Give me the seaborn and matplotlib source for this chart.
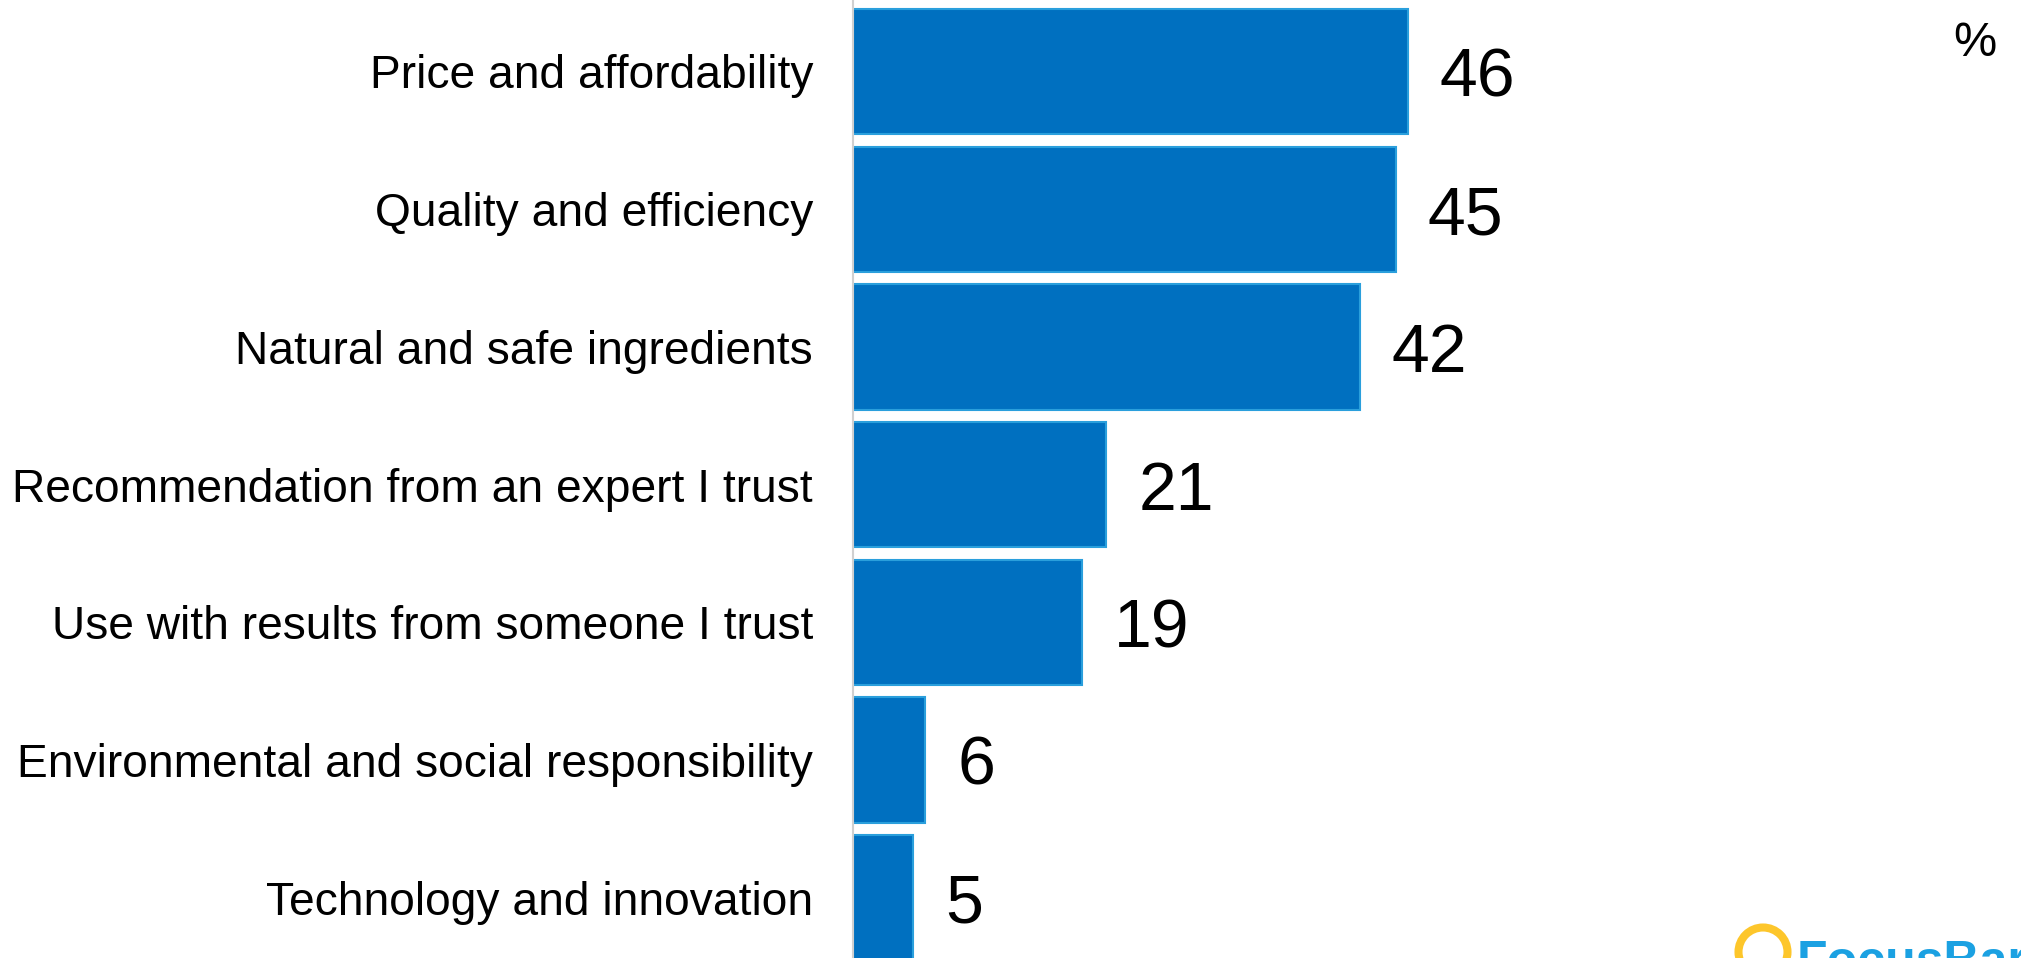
import matplotlib
matplotlib.use("Agg")
import matplotlib.pyplot as plt
from matplotlib.patches import Ellipse
import seaborn as sns
import pandas as pd

# Purchase drivers, share of respondents (%)
categories = [
    "Price and affordability",
    "Quality and efficiency",
    "Natural and safe ingredients",
    "Recommendation from an expert I trust",
    "Use with results from someone I trust",
    "Environmental and social responsibility",
    "Technology and innovation",
]
values = [46, 45, 42, 21, 19, 6, 5]

df = pd.DataFrame({"driver": categories, "share": values})

sns.set_theme(style="white")
plt.rcParams["font.family"] = ["Liberation Sans", "DejaVu Sans"]

W, H = 2021, 958
fig = plt.figure(figsize=(W / 100, H / 100), dpi=100)
ax_left = 853 / W
ax = fig.add_axes([ax_left, 0.0, 1 - ax_left, 1.0])

bar_blue = "#0070C0"
edge_blue = "#2A9FDC"

sns.barplot(
    data=df, x="share", y="driver", orient="h",
    color=bar_blue, saturation=1, width=0.91,
    edgecolor=edge_blue, linewidth=1.5, ax=ax,
)

ax.set_xlim(0, (W - 853) / 12.06)
ax.set_ylim(6.438, -0.519)
ax.set_xlabel("")
ax.set_ylabel("")
ax.set_xticks([])

for side in ("top", "right", "bottom"):
    ax.spines[side].set_visible(False)
ax.spines["left"].set_color("#d0d0d0")
ax.spines["left"].set_linewidth(1.5)

ax.tick_params(axis="y", length=0, pad=28.8, labelsize=33.2, labelcolor="black")

for container in ax.containers:
    texts = ax.bar_label(container, fmt="%d", padding=23, fontsize=49, color="black")
    for t in texts:
        t.xyann = (t.xyann[0], -5)

fig.text(0.977, 0.9545, "%", ha="center", va="center", fontsize=35, color="black")

# Brand mark in the lower right corner
ring = Ellipse((1763 / W, 1 - 952 / H), 49 / W, 49 / H,
               transform=fig.transFigure, fill=False,
               edgecolor="#FDC62B", linewidth=5.8)
fig.add_artist(ring)
fig.text(1797 / W, 1 - 940 / H, "FocusBari", ha="left", va="top",
         fontsize=36, fontweight="bold", color="#1BA1E2")

fig.savefig("out.png", dpi=100)
